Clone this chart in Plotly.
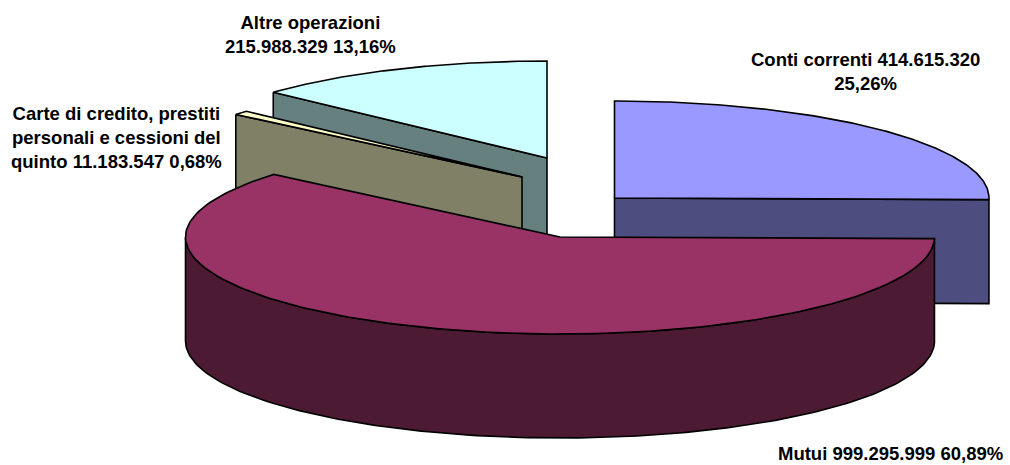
import math
import plotly.graph_objects as go

categories = ["Conti correnti", "Mutui", "Carte di credito, prestiti personali e cessioni del quinto", "Altre operazioni"]
values = [414615320, 999295999, 11183547, 215988329]
label_texts = [
    "Conti correnti 414.615.320<br>25,26%",
    "Mutui 999.295.999 60,89%",
    "Carte di credito, prestiti<br>personali e cessioni del<br>quinto 11.183.547 0,68%",
    "Altre operazioni<br>215.988.329 13,16%",
]
top_colors = ["#9999ff", "#993366", "#ffffcc", "#ccffff"]
side_colors = ["#4d4d80", "#4d1a33", "#808066", "#668080"]

# exploded-slice apex of each wedge, in the pixel-like axis space
centers = [(614.5, 198), (560, 237), (522, 177), (547, 158)]
radii_x = [374.5, 374.5, 374.5, 372]
label_pos = [(865, 71), (890, 453.5), (116, 137), (310, 34.5)]
RY, DEPTH = 97, 104


def arc(i, a0, a1, dy=0, n=160):
    cx, cy = centers[i]
    rx = radii_x[i]
    return [(cx + rx * math.cos(math.radians(a0 + (a1 - a0) * k / n)),
             cy + dy - RY * math.sin(math.radians(a0 + (a1 - a0) * k / n))) for k in range(n + 1)]


def poly(pts, color):
    xs = [p[0] for p in pts] + [pts[0][0]]
    ys = [p[1] for p in pts] + [pts[0][1]]
    return go.Scatter(x=xs, y=ys, mode="lines", fill="toself", fillcolor=color,
                      line=dict(color="#000000", width=1.6), hoverinfo="skip", showlegend=False)


total = sum(values)
angles = []
a = 90.0
for v in values:
    b = a - 360.0 * v / total
    angles.append((a, b))
    a = b

fig = go.Figure()


def radial_face(i, edge):
    cx, cy = centers[i]
    p = arc(i, edge, edge, n=1)[0]
    return poly([p, (cx, cy), (cx, cy + DEPTH), (p[0], p[1] + DEPTH)], side_colors[i])


def top(i):
    return poly([centers[i]] + arc(i, *angles[i]), top_colors[i])


# back to front: Altre, Carte, Conti, Mutui
fig.add_trace(radial_face(3, angles[3][0]))
fig.add_trace(top(3))
fig.add_trace(radial_face(2, angles[2][0]))
fig.add_trace(top(2))
fig.add_trace(radial_face(0, angles[0][1]))
fig.add_trace(top(0))

wall = arc(1, angles[1][0], -180) + arc(1, -180, angles[1][0], dy=DEPTH)
fig.add_trace(poly(wall, side_colors[1]))
fig.add_trace(top(1))

for (x, y), t in zip(label_pos, label_texts):
    fig.add_annotation(x=x, y=y, text="<b>" + t + "</b>", showarrow=False, xanchor="center", yanchor="middle",
                       align="center", font=dict(family="Liberation Sans", size=18.5, color="#000000"))

fig.update_layout(
    width=1010, height=465, margin=dict(l=0, r=0, t=0, b=0),
    paper_bgcolor="white", plot_bgcolor="white", showlegend=False, hovermode=False,
    xaxis=dict(range=[0, 1010], visible=False, fixedrange=True),
    yaxis=dict(range=[465, 0], visible=False, fixedrange=True),
)
fig.write_html("out.html", post_script="document.body.style.margin='0';", config={"displayModeBar": False})
